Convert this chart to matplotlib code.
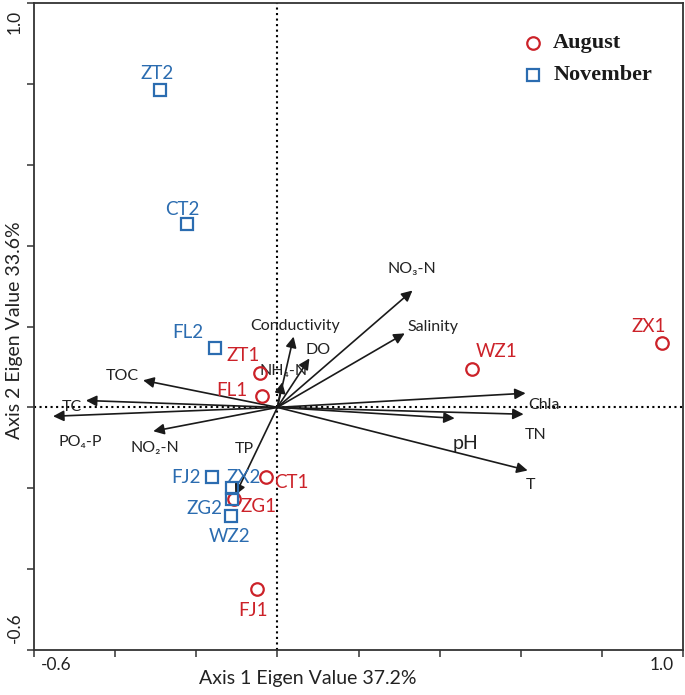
import matplotlib
matplotlib.use('Agg')
import matplotlib.pyplot as plt

plt.rcParams['font.family'] = ['Lato', 'DejaVu Sans']

# sample scores (August = red circles, November = blue squares)
aug_names = ['ZX1', 'WZ1', 'ZT1', 'FL1', 'CT1', 'ZG1', 'FJ1']
aug_x = [0.948, 0.479, -0.044, -0.037, -0.027, -0.106, -0.049]
aug_y = [0.160, 0.096, 0.086, 0.027, -0.173, -0.227, -0.449]
aug_off = [(-13, 16), (25, 17), (-16, 17), (-30, 6), (25, -5), (24, -7), (-4, -22)]

nov_names = ['ZT2', 'CT2', 'FL2', 'FJ2', 'ZX2', 'ZG2', 'WZ2']
nov_x = [-0.289, -0.222, -0.153, -0.160, -0.111, -0.111, -0.114]
nov_y = [0.785, 0.454, 0.148, -0.173, -0.200, -0.227, -0.269]
nov_off = [(-3, 16), (-5, 14), (-28, 15), (-26, 0), (11, 11), (-28, -9), (-2, -20)]

# environmental vectors
env_names = ['NO₃-N', 'Salinity', 'Conductivity', 'DO', 'NH₄-N', 'Chla', 'TN', 'pH', 'T',
             'TP', 'TOC', 'TC', 'PO₄-P', 'NO₂-N']
env_x = [0.333, 0.314, 0.040, 0.079, 0.012, 0.612, 0.607, 0.437, 0.617,
         -0.104, -0.331, -0.472, -0.553, -0.306]
env_y = [0.289, 0.183, 0.175, 0.121, 0.062, 0.035, -0.017, -0.027, -0.156,
         -0.217, 0.067, 0.017, -0.022, -0.059]
lab_x = [0.331, 0.383, 0.044, 0.101, 0.015, 0.657, 0.637, 0.464, 0.625,
         -0.081, -0.383, -0.506, -0.486, -0.301]
lab_y = [0.343, 0.198, 0.202, 0.143, 0.091, 0.007, -0.069, -0.089, -0.193,
         -0.104, 0.077, 0.0, -0.086, -0.101]

legend_labels = ['August', 'November']
legend_y = [0.901, 0.822]

red = '#cc2229'
blue = '#2b6cb0'

fig = plt.figure(figsize=(6.85, 6.95), dpi=100)
ax = fig.add_axes([34 / 685, 45 / 695, 649 / 685, 647 / 695])
ax.set_xlim(-0.6, 1.0)
ax.set_ylim(-0.6, 1.0)

ax.axvline(0, color='black', linestyle=':', lw=1.5, zorder=1)
ax.axhline(0, color='black', linestyle=':', lw=1.5, zorder=1)

for i in range(len(env_names)):
    ax.annotate('', xy=(env_x[i], env_y[i]), xytext=(0, 0),
                arrowprops=dict(arrowstyle='-|>', color='#1a1a1a', lw=1.2,
                                mutation_scale=16, shrinkA=0, shrinkB=0))
    fs = 14 if env_names[i] == 'pH' else 11.5
    ax.text(lab_x[i], lab_y[i], env_names[i], fontsize=fs, color='#222222',
            ha='center', va='center')

ax.plot(aug_x, aug_y, 'o', mfc='none', mec=red, mew=1.6, ms=9, zorder=3)
ax.plot(nov_x, nov_y, 's', mfc='none', mec=blue, mew=1.6, ms=9, zorder=3)

for n, x, y, off in zip(aug_names, aug_x, aug_y, aug_off):
    ax.annotate(n, (x, y), xytext=off, textcoords='offset pixels',
                ha='center', va='center', fontsize=13.5, color=red)
for n, x, y, off in zip(nov_names, nov_x, nov_y, nov_off):
    ax.annotate(n, (x, y), xytext=off, textcoords='offset pixels',
                ha='center', va='center', fontsize=13.5, color=blue)

# legend
ax.plot([0.63], [legend_y[0]], 'o', mfc='none', mec=red, mew=1.6, ms=9)
ax.plot([0.63], [legend_y[1]], 's', mfc='none', mec=blue, mew=1.6, ms=9)
for lab, y in zip(legend_labels, legend_y):
    ax.text(0.68, y, lab, family='Liberation Serif', weight='bold', fontsize=16,
            va='center', color='#1a1a1a')

ticks = [-0.6, -0.4, -0.2, 0.0, 0.2, 0.4, 0.6, 0.8, 1.0]
ax.set_xticks(ticks)
ax.set_yticks(ticks)
ax.set_xticklabels([])
ax.set_yticklabels([])
ax.tick_params(direction='out', length=5, width=1.1, color='#333333')
for s in ax.spines.values():
    s.set_linewidth(1.3)
    s.set_color('#333333')

ax.text(-0.546, -0.638, '-0.6', fontsize=12.5, ha='center', va='center', color='#222222')
ax.text(0.948, -0.638, '1.0', fontsize=12.5, ha='center', va='center', color='#222222')
ax.text(-0.648, 0.953, '1.0', fontsize=12.5, ha='center', va='center', rotation=90, color='#222222')
ax.text(-0.648, -0.545, '-0.6', fontsize=12.5, ha='center', va='center', rotation=90, color='#222222')

ax.text(0.074, -0.67, 'Axis 1 Eigen Value 37.2%', fontsize=14, ha='center', va='center', color='#222222')
ax.text(-0.648, 0.19, 'Axis 2 Eigen Value 33.6%', fontsize=14, ha='center', va='center',
        rotation=90, color='#222222')

fig.savefig('out.png', dpi=100)
